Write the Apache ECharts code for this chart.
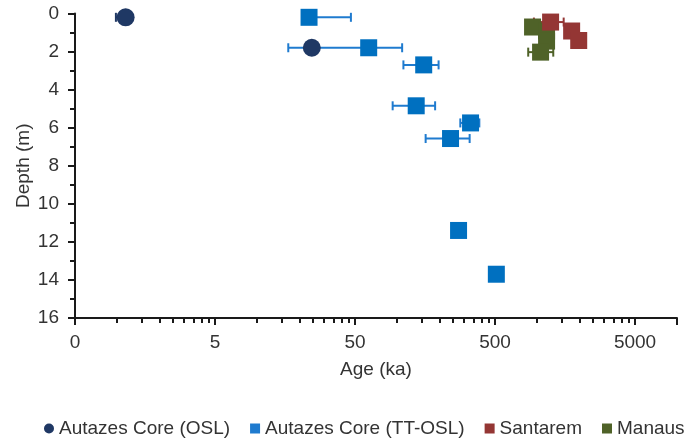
<!DOCTYPE html>
<html>
<head>
<meta charset="utf-8">
<script src="https://cdn.jsdelivr.net/npm/echarts@6/dist/echarts.min.js"></script>
<style>
html, body { margin: 0; padding: 0; background: #fff; }
#main { width: 686px; height: 438px; }
</style>
</head>
<body>
<div id="main"></div>
<script>
// Autazes core, OSL
var oslAge = [1.15, 24.6];
var oslDepth = [0.2, 1.8];
var oslErrMinus = [0.17, 0];
var oslErrPlus = [0.1, 0];

// Autazes core, TT-OSL
var ttAge = [23.5, 62.7, 155, 137, 335, 241, 275, 512];
var ttDepth = [0.2, 1.8, 2.7, 4.85, 5.75, 6.57, 11.4, 13.7];
var ttErrMinus = [0, 46, 44, 44, 52, 81, 0, 0];
var ttErrPlus = [23.3, 46, 43, 50, 52, 89, 0, 0];

// Santarem
var stAge = [1250, 1767, 1985];
var stDepth = [0.45, 0.92, 1.42];
var stErrMinus = [300, 0, 0];
var stErrPlus = [300, 0, 0];

// Manaus
var mnAge = [929, 1170, 1170, 1060];
var mnDepth = [0.71, 0.92, 1.45, 2.03];
var mnErrMinus = [0, 0, 0, 195];
var mnErrPlus = [0, 0, 0, 246];

var names = ['Autazes Core (OSL)', 'Autazes Core (TT-OSL)', 'Santarem', 'Manaus'];
var colors = ['#1f3864', '#0070c0', '#943634', '#4f6228'];

function points(age, depth) {
    return age.map(function (a, i) { return [a, depth[i]]; });
}

// [centre, low, high, depth] for every point that has an error bar
function bars(age, depth, minus, plus) {
    var out = [];
    for (var i = 0; i < age.length; i++) {
        if (minus[i] || plus[i]) out.push([age[i], age[i] - minus[i], age[i] + plus[i], depth[i]]);
    }
    return out;
}

function drawBar(params, api) {
    var c = api.coord([api.value(0), api.value(3)]);
    var lo = api.coord([api.value(1), api.value(3)]);
    var hi = api.coord([api.value(2), api.value(3)]);
    var h = 4.5;
    var st = { stroke: api.visual('color'), lineWidth: 2 };
    var kids = [{ type: 'line', shape: { x1: lo[0], y1: lo[1], x2: hi[0], y2: hi[1] }, style: st }];
    if (lo[0] < c[0] - 1) kids.push({ type: 'line', shape: { x1: lo[0], y1: lo[1] - h, x2: lo[0], y2: lo[1] + h }, style: st });
    if (hi[0] > c[0] + 1) kids.push({ type: 'line', shape: { x1: hi[0], y1: hi[1] - h, x2: hi[0], y2: hi[1] + h }, style: st });
    return { type: 'group', children: kids };
}

var myChart = echarts.init(document.getElementById('main'));

var font = "'Liberation Sans', Arial, sans-serif";
var axisColor = '#1a1a1a';
var textColor = '#333333';

myChart.setOption({
    animation: false,
    grid: { left: 75, right: 9, top: 13.5, bottom: 120, containLabel: false },
    legend: {
        left: 39,
        top: 414,
        width: 680,
        itemWidth: 10,
        itemHeight: 10,
        itemGap: 20,
        textStyle: { fontFamily: font, fontSize: 19, color: textColor },
        data: [
            { name: names[0], icon: 'circle' },
            { name: names[1], icon: 'rect' },
            { name: names[2], icon: 'rect' },
            { name: names[3], icon: 'rect' }
        ]
    },
    xAxis: {
        type: 'log',
        logBase: 10,
        position: 'bottom',
        min: 0.5,
        max: 10000,
        interval: 1,
        name: 'Age (ka)',
        nameLocation: 'middle',
        nameGap: 42,
        nameMoveOverlap: false,
        nameTextStyle: { fontFamily: font, fontSize: 19, color: textColor },
        axisLine: { show: true, onZero: false, lineStyle: { color: axisColor, width: 2 } },
        axisTick: { show: true, inside: false, length: 7, lineStyle: { color: axisColor, width: 2 } },
        minorTick: { show: true, splitNumber: 9, length: 5, lineStyle: { color: axisColor, width: 2 } },
        splitLine: { show: false },
        axisLabel: {
            fontFamily: font, fontSize: 19, color: textColor, margin: 15,
            formatter: function (v) {
                if (v > 6000) return '';
                if (v < 1) return '0';
                return String(Number(v.toPrecision(1)));
            }
        }
    },
    yAxis: {
        type: 'value',
        inverse: true,
        min: 0,
        max: 16,
        interval: 2,
        name: 'Depth (m)',
        nameLocation: 'middle',
        nameGap: 42,
        nameMoveOverlap: false,
        nameTextStyle: { fontFamily: font, fontSize: 19, color: textColor },
        axisLine: { show: true, onZero: false, lineStyle: { color: axisColor, width: 2 } },
        axisTick: { show: true, inside: false, length: 7, lineStyle: { color: axisColor, width: 2 } },
        minorTick: { show: true, splitNumber: 2, length: 5, lineStyle: { color: axisColor, width: 2 } },
        splitLine: { show: false },
        axisLabel: { fontFamily: font, fontSize: 19, color: textColor, margin: 16 }
    },
    series: [
        { name: names[1], type: 'custom', renderItem: drawBar, itemStyle: { color: '#1f7bcf' }, encode: { x: [0, 1, 2], y: 3 }, data: bars(ttAge, ttDepth, ttErrMinus, ttErrPlus), z: 1 },
        { name: names[0], type: 'custom', renderItem: drawBar, itemStyle: { color: colors[0] }, encode: { x: [0, 1, 2], y: 3 }, data: bars(oslAge, oslDepth, oslErrMinus, oslErrPlus), z: 1 },
        { name: names[2], type: 'custom', renderItem: drawBar, itemStyle: { color: colors[2] }, encode: { x: [0, 1, 2], y: 3 }, data: bars(stAge, stDepth, stErrMinus, stErrPlus), z: 1 },
        { name: names[3], type: 'custom', renderItem: drawBar, itemStyle: { color: colors[3] }, encode: { x: [0, 1, 2], y: 3 }, data: bars(mnAge, mnDepth, mnErrMinus, mnErrPlus), z: 1 },
        { name: names[1], type: 'scatter', symbol: 'rect', symbolSize: 17, itemStyle: { color: colors[1], opacity: 1 }, data: points(ttAge, ttDepth), z: 3 },
        { name: names[0], type: 'scatter', symbol: 'circle', symbolSize: 18, itemStyle: { color: colors[0], opacity: 1 }, data: points(oslAge, oslDepth), z: 4 },
        { name: names[3], type: 'scatter', symbol: 'rect', symbolSize: 17, itemStyle: { color: colors[3], opacity: 1 }, data: points(mnAge, mnDepth), z: 3 },
        { name: names[2], type: 'scatter', symbol: 'rect', symbolSize: 17, itemStyle: { color: colors[2], opacity: 1 }, data: points(stAge, stDepth), z: 4 }
    ]
});
</script>
</body>
</html>
